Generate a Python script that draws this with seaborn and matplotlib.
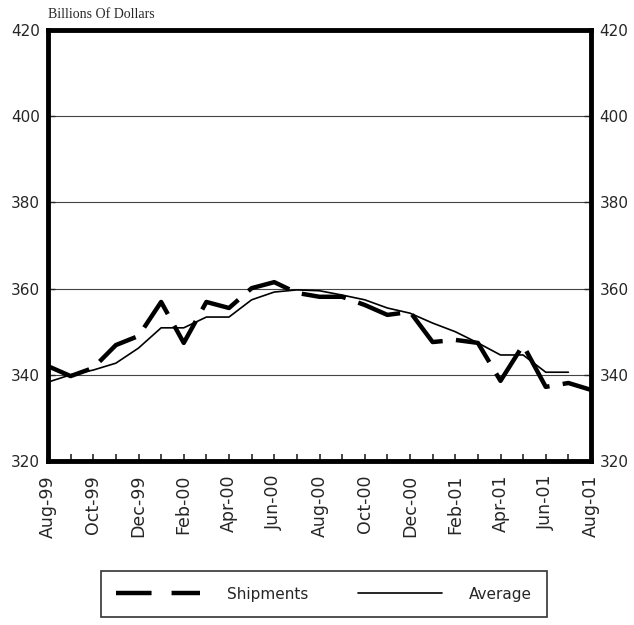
import matplotlib
matplotlib.use("Agg")
import matplotlib.pyplot as plt
import seaborn as sns
import numpy as np
import pandas as pd
from matplotlib.lines import Line2D

months = ["Aug-99", "Sep-99", "Oct-99", "Nov-99", "Dec-99", "Jan-00", "Feb-00", "Mar-00",
          "Apr-00", "May-00", "Jun-00", "Jul-00", "Aug-00", "Sep-00", "Oct-00", "Nov-00",
          "Dec-00", "Jan-01", "Feb-01", "Mar-01", "Apr-01", "May-01", "Jun-01", "Jul-01", "Aug-01"]
shipments = [342.0, 339.7, 341.6, 346.9, 349.0, 356.9, 347.4, 356.9, 355.5, 360.1, 361.5, 359.0,
             358.1, 358.1, 356.2, 353.9, 354.6, 347.6, 348.1, 347.4, 338.6, 346.9, 337.2, 338.1, 336.5]
average = [338.3, 340.0, 341.1, 342.7, 346.2, 350.9, 350.9, 353.4, 353.4, 357.4, 359.2, 359.7,
           359.5, 358.5, 357.4, 355.5, 354.3, 352.0, 350.0, 347.4, 344.6, 344.6, 340.6, 340.6, np.nan]
y_ticks = [320, 340, 360, 380, 400, 420]

df = pd.DataFrame({"idx": np.arange(len(months)), "Shipments": shipments, "Average": average})

sns.set_style("white")
plt.rcParams["font.family"] = ["DejaVu Sans"]

fig = plt.figure(figsize=(6.34, 6.25), dpi=100)
ax = fig.add_axes([48 / 634, 1 - 461 / 625, (591 - 48) / 634, (461 - 30) / 625])

for y in y_ticks[1:-1]:
    ax.axhline(y, color="#444444", lw=0.8, zorder=0)

dash = (0, (10, 3))
sns.lineplot(data=df, x="idx", y="Shipments", ax=ax, color="black", lw=3.2,
             linestyle=dash, zorder=3)
sns.lineplot(data=df.dropna(), x="idx", y="Average", ax=ax, color="black", lw=1.2, zorder=2)

ax.set_xlim(0, len(months) - 1)
ax.set_ylim(320, 420)
ax.set_yticks(y_ticks)
ax.set_yticklabels([str(v) for v in y_ticks], fontsize=11)
ax.set_xticks(np.arange(0, len(months), 2))
ax.set_xticklabels(months[::2], rotation=90, fontsize=12.5)
ax.set_xticks(np.arange(len(months)), minor=True)
ax.tick_params(axis="x", which="both", direction="in", length=5, width=1.2, bottom=True, pad=10)
ax.tick_params(axis="y", which="both", direction="in", length=5, width=1.0, left=True, right=True,
               labelright=True, labelleft=True, pad=6)
ax.set_xlabel("")
ax.set_ylabel("")
for s in ax.spines.values():
    s.set_visible(True)
    s.set_linewidth(3.5)
    s.set_color("black")

fig.text(48 / 634, 1 - 14 / 625, "Billions Of Dollars", family="Liberation Serif",
         fontsize=10, ha="left", va="center")

handles = [Line2D([], [], color="black", lw=3.2, linestyle=(0, (8, 4.5))),
           Line2D([], [], color="black", lw=1.2)]
leg = fig.legend(handles, ["Shipments", "Average"], loc="center",
                 bbox_to_anchor=(324 / 634, 1 - 594 / 625), ncol=2, frameon=True,
                 fancybox=False, edgecolor="black", fontsize=11, handlelength=5.5,
                 handletextpad=1.8, columnspacing=3.2, borderpad=1.0, borderaxespad=0)
leg.get_frame().set_linewidth(1.2)

fig.savefig("out.png", dpi=100)
